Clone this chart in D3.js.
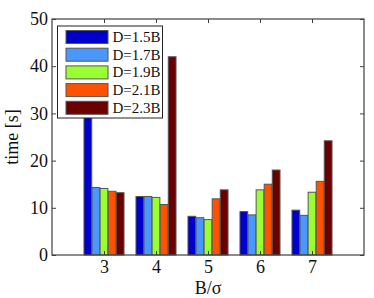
<!DOCTYPE html>
<html>
<head>
<meta charset="utf-8">
<script src="https://cdn.jsdelivr.net/npm/d3@7"></script>
<style>
  html, body { margin: 0; padding: 0; background: #fff; }
  svg { display: block; font-family: "Liberation Serif", "DejaVu Serif", serif; }
</style>
</head>
<body>
<div id="chart"></div>
<script>
// B/sigma groups and one series per D value
const categories = [3, 4, 5, 6, 7];
const seriesNames = ["D=1.5B", "D=1.7B", "D=1.9B", "D=2.1B", "D=2.3B"];
const seriesColors = ["#0000cc", "#4a98ff", "#99ff33", "#ff5200", "#6b0000"];
const d15 = [35, 12.4, 8.2, 9.2, 9.5];
const d17 = [14.3, 12.4, 7.9, 8.5, 8.4];
const d19 = [14.1, 12.2, 7.5, 13.8, 13.3];
const d21 = [13.5, 10.7, 11.9, 15.0, 15.6];
const d23 = [13.2, 42.0, 13.8, 18.0, 24.2];
const yTicks = [0, 10, 20, 30, 40, 50];

(function () {
  const width = 374;
  const height = 298;
  const margin = { top: 19, right: 10, bottom: 43, left: 52 };
  const axisColor = "#404040";
  const fontSize = "18px";
  const seriesValues = [d15, d17, d19, d21, d23];

  const svg = d3.select("#chart").append("svg")
    .attr("width", width)
    .attr("height", height);

  const xScale = d3.scaleLinear()
    .domain([2, 8])
    .range([margin.left, width - margin.right]);

  const yScale = d3.scaleLinear()
    .domain([0, 50])
    .range([height - margin.bottom, margin.top]);

  const unit = xScale(1) - xScale(0);
  const inner = d3.scaleBand()
    .domain(seriesNames)
    .range([-unit * 0.385, unit * 0.385])
    .paddingInner(0.04);

  const rows = [];
  categories.forEach((c, i) => {
    seriesNames.forEach((name, j) => {
      rows.push({ cat: c, name, value: seriesValues[j][i], color: seriesColors[j] });
    });
  });

  svg.append("g")
    .selectAll("rect")
    .data(rows)
    .join("rect")
    .attr("x", (d) => xScale(d.cat) + inner(d.name))
    .attr("width", inner.bandwidth())
    .attr("y", (d) => yScale(d.value))
    .attr("height", (d) => yScale(0) - yScale(d.value))
    .attr("fill", (d) => d.color)
    .attr("stroke", "#555")
    .attr("stroke-width", 1);

  // axes, ticks pointing inward, box on all four sides
  const styleAxis = (g) => {
    g.attr("font-size", fontSize).attr("font-family", "Liberation Serif, serif");
    g.select(".domain").remove();
    g.selectAll("line").attr("stroke", axisColor);
    g.selectAll("text").attr("fill", "#111");
  };

  svg.append("g")
    .attr("transform", `translate(0,${yScale(0)})`)
    .call(d3.axisBottom(xScale).tickValues(categories).tickSize(-4).tickPadding(5).tickFormat(d3.format("d")))
    .call(styleAxis);

  svg.append("g")
    .attr("transform", `translate(0,${yScale(50)})`)
    .call(d3.axisTop(xScale).tickValues(categories).tickSize(-4).tickFormat(""))
    .call(styleAxis);

  svg.append("g")
    .attr("transform", `translate(${margin.left},0)`)
    .call(d3.axisLeft(yScale).tickValues(yTicks).tickSize(-4).tickPadding(4).tickFormat(d3.format("d")))
    .call(styleAxis);

  svg.append("g")
    .attr("transform", `translate(${width - margin.right},0)`)
    .call(d3.axisRight(yScale).tickValues(yTicks).tickSize(-4).tickFormat(""))
    .call(styleAxis);

  svg.append("rect")
    .attr("x", margin.left)
    .attr("y", margin.top)
    .attr("width", width - margin.left - margin.right)
    .attr("height", height - margin.top - margin.bottom)
    .attr("fill", "none")
    .attr("stroke", axisColor)
    .attr("stroke-width", 1.2);

  svg.append("text")
    .attr("text-anchor", "middle")
    .attr("font-size", fontSize)
    .attr("fill", "#111")
    .attr("x", (xScale(2) + xScale(8)) / 2)
    .attr("y", 294)
    .text("B/σ");

  svg.append("text")
    .attr("text-anchor", "middle")
    .attr("font-size", fontSize)
    .attr("fill", "#111")
    .attr("transform", `translate(18,${(yScale(0) + yScale(50)) / 2}) rotate(-90)`)
    .text("time [s]");

  // legend
  const legend = svg.append("g").attr("transform", "translate(57.5,26)");
  legend.append("rect")
    .attr("width", 105)
    .attr("height", 92)
    .attr("fill", "#fff")
    .attr("stroke", "#222")
    .attr("stroke-width", 1);

  const items = legend.selectAll("g.item")
    .data(seriesNames)
    .join("g")
    .attr("class", "item")
    .attr("transform", (d, i) => `translate(0,${4.5 + i * 17.7})`);

  items.append("rect")
    .attr("x", 8.5)
    .attr("width", 42)
    .attr("height", 13)
    .attr("fill", (d, i) => seriesColors[i])
    .attr("stroke", "#555");

  items.append("text")
    .attr("x", 55)
    .attr("y", 11.5)
    .attr("font-size", "15px")
    .attr("fill", "#111")
    .text((d) => d);
})();
</script>
</body>
</html>
